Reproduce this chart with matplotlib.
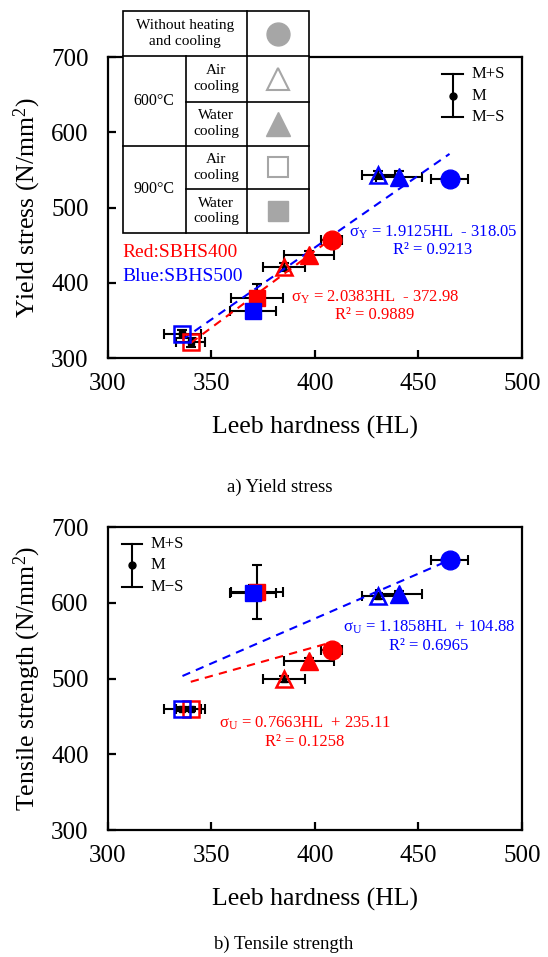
import matplotlib
matplotlib.use("Agg")
import matplotlib.pyplot as plt
import numpy as np
from matplotlib.patches import Rectangle

plt.rcParams['font.family'] = ['Liberation Serif', 'DejaVu Serif']
plt.rcParams['mathtext.fontset'] = 'custom'
plt.rcParams['mathtext.rm'] = 'Liberation Serif'
plt.rcParams['mathtext.it'] = 'Liberation Serif:italic'

# order: without, 600 air, 600 water, 900 air, 900 water
markers = ['o', '^', '^', 's', 's']
filled = [True, False, True, False, True]
msizes = [13.5, 12.5, 12.5, 12, 12]

hl_red = [408, 385, 397, 340, 372]
hl_red_err = [5, 10, 12, 7, 12.5]
hl_blue = [465, 430.5, 440.5, 336, 370]
hl_blue_err = [9, 8, 11, 9, 11]

ys_red = [457, 421, 437, 321, 380]
ys_red_err = [4, 5, 5, 6, 18]
ys_blue = [538, 543, 541, 332, 363]
ys_blue_err = [5, 5, 8, 5, 6]

ts_red = [538, 499, 522.5, 460, 614]
ts_red_err = [4, 4, 5, 3, 36]
ts_blue = [656, 608.5, 611, 460, 613]
ts_blue_err = [4, 4, 4, 3, 10]

# regression lines (slope, intercept) as given in the chart
ys_fit_red = (2.0383, -372.98)
ys_fit_blue = (1.9125, -318.05)
ts_fit_red = (0.7663, 235.11)
ts_fit_blue = (1.1858, 104.88)

RED = '#ff0000'
BLUE = '#0000ff'
GRAY = '#a6a6a6'


def draw_series(ax, hl, hle, val, vale, color):
    for i in range(len(hl)):
        ax.errorbar(hl[i], val[i], xerr=hle[i], yerr=vale[i], fmt=markers[i],
                    color='black', ms=4, lw=1.5, capsize=3.5, capthick=1.5, zorder=2)
        if filled[i]:
            ax.plot(hl[i], val[i], marker=markers[i], ms=msizes[i], color=color,
                    ls='none', zorder=4)
        else:
            ax.plot(hl[i], val[i], marker=markers[i], ms=msizes[i] - 1, mfc='none',
                    mec=color, mew=1.8, ls='none', zorder=4)


def draw_fit(ax, hl, fit, color):
    x = np.array([min(hl), max(hl)])
    ax.plot(x, fit[0] * x + fit[1], color=color, ls=(0, (4, 3)), lw=1.5, zorder=3)


def style_axes(ax, ylabel):
    ax.set_xlim(300, 500)
    ax.set_ylim(300, 700)
    ax.set_xticks([300, 350, 400, 450, 500])
    ax.set_yticks([300, 400, 500, 600, 700])
    for s in ax.spines.values():
        s.set_linewidth(1.6)
    ax.tick_params(direction='in', length=6, width=1.6, labelsize=18, pad=11)
    ax.tick_params(axis='y', pad=14)
    ax.set_xlabel('Leeb hardness (HL)', fontsize=18.5, labelpad=15)
    ax.set_ylabel(ylabel, fontsize=18.5, labelpad=6)


def ms_legend(ax, x, ytop, ybot):
    ymid = (ytop + ybot) / 2
    ax.plot([x, x], [ytop, ybot], color='black', lw=1.5, transform=ax.transAxes)
    for yy in (ytop, ybot):
        ax.plot([x - 0.025, x + 0.025], [yy, yy], color='black', lw=1.5, transform=ax.transAxes)
    ax.plot(x, ymid, 'o', color='black', ms=5, transform=ax.transAxes)
    tx = x + 0.045
    ax.text(tx, ytop, 'M+S', fontsize=12, va='center', transform=ax.transAxes)
    ax.text(tx, ymid, 'M', fontsize=12, va='center', transform=ax.transAxes)
    ax.text(tx, ybot, 'M\u2212S', fontsize=12, va='center', transform=ax.transAxes)


def eq_text(ax, x, y, eq, r2, color):
    ax.text(x[0], y[0], eq, color=color, fontsize=12, ha='center', va='center',
            transform=ax.transAxes)
    ax.text(x[1], y[1], r2, color=color, fontsize=12, ha='center', va='center',
            transform=ax.transAxes)


fig = plt.figure(figsize=(5.48, 9.57), dpi=100)

# a) yield stress
ax1 = fig.add_axes([0.197, 0.6259, 0.7555, 0.3145])
draw_fit(ax1, hl_red, ys_fit_red, RED)
draw_fit(ax1, hl_blue, ys_fit_blue, BLUE)
draw_series(ax1, hl_red, hl_red_err, ys_red, ys_red_err, RED)
draw_series(ax1, hl_blue, hl_blue_err, ys_blue, ys_blue_err, BLUE)
style_axes(ax1, 'Yield stress (N/mm$^2$)')
eq_text(ax1, (0.785, 0.785), (0.419, 0.359),
        '\u03c3$_\\mathrm{Y}$ = 1.9125HL  - 318.05', 'R\u00b2 = 0.9213', BLUE)
eq_text(ax1, (0.645, 0.645), (0.203, 0.143),
        '\u03c3$_\\mathrm{Y}$ = 2.0383HL  - 372.98', 'R\u00b2 = 0.9889', RED)
ax1.text(0.036, 0.35, 'Red:SBHS400', color=RED, fontsize=14, va='center', transform=ax1.transAxes)
ax1.text(0.036, 0.27, 'Blue:SBHS500', color=BLUE, fontsize=14, va='center', transform=ax1.transAxes)
ms_legend(ax1, 0.833, 0.943, 0.801)

# b) tensile strength
ax2 = fig.add_axes([0.197, 0.1327, 0.7555, 0.3166])
draw_fit(ax2, hl_red, ts_fit_red, RED)
draw_fit(ax2, hl_blue, ts_fit_blue, BLUE)
draw_series(ax2, hl_red, hl_red_err, ts_red, ts_red_err, RED)
draw_series(ax2, hl_blue, hl_blue_err, ts_blue, ts_blue_err, BLUE)
style_axes(ax2, 'Tensile strength (N/mm$^2$)')
eq_text(ax2, (0.775, 0.775), (0.67, 0.607),
        '\u03c3$_\\mathrm{U}$ = 1.1858HL  + 104.88', 'R\u00b2 = 0.6965', BLUE)
eq_text(ax2, (0.475, 0.475), (0.353, 0.29),
        '\u03c3$_\\mathrm{U}$ = 0.7663HL  + 235.11', 'R\u00b2 = 0.1258', RED)
ms_legend(ax2, 0.058, 0.944, 0.802)

# overlay in pixel coordinates for the marker table and captions
ov = fig.add_axes([0, 0, 1, 1], zorder=10)
ov.set_xlim(0, 548)
ov.set_ylim(957, 0)
ov.axis('off')
ov.patch.set_alpha(0)

xs = [123, 185.5, 247, 309]
ys = [11, 56, 101.5, 145.5, 189, 233]
ov.add_patch(Rectangle((xs[0], ys[0]), xs[3] - xs[0], ys[5] - ys[0],
                       fc='white', ec='black', lw=1.2))
lk = dict(color='black', lw=1.2)
for y in ys[1:5]:
    if y in (ys[2], ys[4]):
        ov.plot([xs[1], xs[3]], [y, y], **lk)
    else:
        ov.plot([xs[0], xs[3]], [y, y], **lk)
ov.plot([xs[1], xs[1]], [ys[1], ys[5]], **lk)
ov.plot([xs[2], xs[2]], [ys[0], ys[5]], **lk)

tk = dict(fontsize=11, ha='center', va='center', linespacing=1.25)
ov.text((xs[0] + xs[2]) / 2, (ys[0] + ys[1]) / 2, 'Without heating\nand cooling', **tk)
ov.text((xs[0] + xs[1]) / 2, (ys[1] + ys[3]) / 2, '600\u00b0C', fontsize=11.5, ha='center', va='center')
ov.text((xs[0] + xs[1]) / 2, (ys[3] + ys[5]) / 2, '900\u00b0C', fontsize=11.5, ha='center', va='center')
cool = ['Air\ncooling', 'Water\ncooling', 'Air\ncooling', 'Water\ncooling']
for k in range(4):
    ov.text((xs[1] + xs[2]) / 2, (ys[k + 1] + ys[k + 2]) / 2, cool[k], **tk)
tab_ms = [16.5, 17.5, 17.5, 15, 15]
for k in range(5):
    cx = (xs[2] + xs[3]) / 2
    cy = (ys[k] + ys[k + 1]) / 2
    if filled[k]:
        ov.plot(cx, cy, marker=markers[k], ms=tab_ms[k], color=GRAY, ls='none')
    else:
        ov.plot(cx, cy, marker=markers[k], ms=tab_ms[k] - 1, mfc='white', mec=GRAY,
                mew=1.5, ls='none')

ov.text(280, 487, 'a) Yield stress', fontsize=13.5, ha='center', va='center')
ov.text(284, 944, 'b) Tensile strength', fontsize=13.5, ha='center', va='center')

plt.savefig('out.png', dpi=100)
